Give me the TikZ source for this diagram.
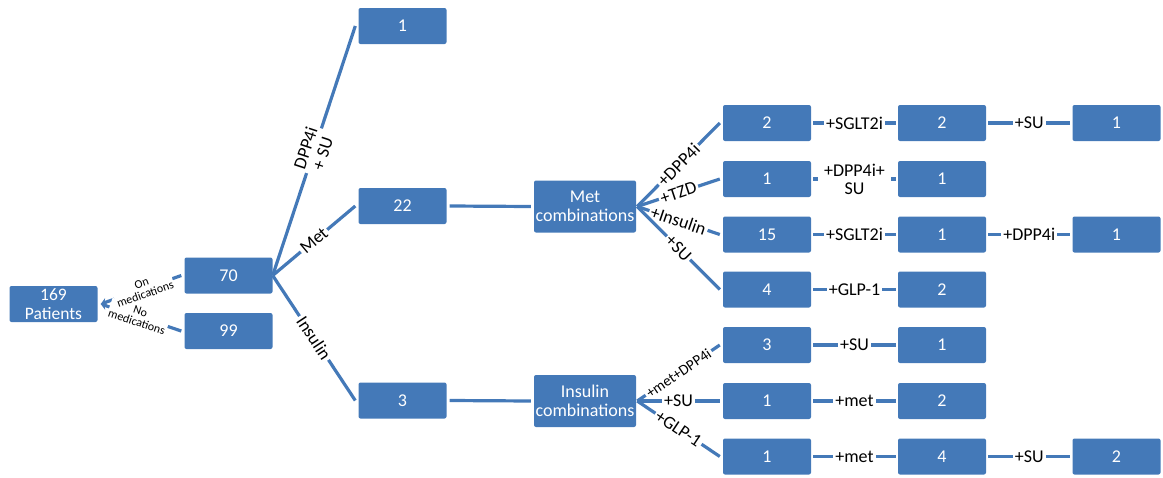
\documentclass[tikz,border=0pt]{standalone}
\usepackage{fontspec}
\setmainfont{Carlito}
\usetikzlibrary{arrows.meta}
\definecolor{boxblue}{RGB}{68,121,184}
\begin{document}
\begin{tikzpicture}[x=1pt,y=-1pt,
 bx/.style={rectangle, rounded corners=2pt, fill=boxblue, text=white, minimum width=88pt, minimum height=36pt, inner sep=0pt, font=\fontsize{18}{19.5}\selectfont, align=center},
 wide/.style={bx, minimum width=102pt, minimum height=52pt},
 conn/.style={draw=boxblue, line width=3.2pt},
 lab/.style={fill=white, inner xsep=2pt, inner ysep=0pt, font=\fontsize{18}{18}\selectfont, text=black, align=center},
 smalllab/.style={lab, inner xsep=1pt, font=\fontsize{12}{11.5}\selectfont},
 midlab/.style={lab, font=\fontsize{15}{15}\selectfont},
 tip/.style={-{Stealth[length=6pt,width=8pt]}},
]
\useasboundingbox (0,0) rectangle (1163,477);

% left part
\node[bx, font=\fontsize{17.5}{19}\selectfont] (pat) at (53.5,304) {169\\Patients};
\node[bx] (n70) at (228.5,275.5) {70};
\node[bx] (n99) at (228.5,331) {99};
\node[bx] (n1) at (402.5,26) {1};
\node[bx] (n22) at (402.5,206) {22};
\node[bx] (n3) at (402.5,400.5) {3};
\node[wide] (metc) at (585,206.5) {Met\\combinations};
\node[wide] (insc) at (585,401) {Insulin\\combinations};

% right columns
\node[bx] (a1) at (767,123) {2};
\node[bx] (a2) at (942,123) {2};
\node[bx] (a3) at (1116.5,123) {1};
\node[bx] (b1) at (767,179) {1};
\node[bx] (b2) at (942,179) {1};
\node[bx] (c1) at (767,234.5) {15};
\node[bx] (c2) at (942,234.5) {1};
\node[bx] (c3) at (1116.5,234.5) {1};
\node[bx] (d1) at (767,289.5) {4};
\node[bx] (d2) at (942,289.5) {2};
\node[bx] (e1) at (767,345) {3};
\node[bx] (e2) at (942,345) {1};
\node[bx] (f1) at (767,401) {1};
\node[bx] (f2) at (942,401) {2};
\node[bx] (g1) at (767,456.5) {1};
\node[bx] (g2) at (942,456.5) {4};
\node[bx] (g3) at (1116.5,456.5) {2};

% medications arrows: lines, then white backings, then texts
\draw[conn, tip] ([xshift=-3pt]n70.west) -- ([xshift=3pt]pat.east);
\draw[conn, tip] ([xshift=-3pt]n99.west) -- ([xshift=3pt]pat.east);
\path ([xshift=-3pt]n70.west) -- node[smalllab, sloped, pos=0.47]{\phantom{On}\\\phantom{medications}} ([xshift=3pt]pat.east);
\path ([xshift=-3pt]n99.west) -- node[smalllab, sloped, pos=0.53]{\phantom{No}\\\phantom{medications}} ([xshift=3pt]pat.east);
\path ([xshift=-3pt]n70.west) -- node[smalllab, sloped, pos=0.47, fill=none]{On\\medications} ([xshift=3pt]pat.east);
\path ([xshift=-3pt]n99.west) -- node[smalllab, sloped, pos=0.53, fill=none]{No\\medications} ([xshift=3pt]pat.east);

% fan from 70
\draw[conn] (n70.east) -- node[lab, sloped]{DPP4i\\+ SU} ([xshift=-3pt]n1.west);
\draw[conn] (n70.east) -- node[lab, sloped]{Met} ([xshift=-3pt]n22.west);
\draw[conn] (n70.east) -- node[lab, sloped]{Insulin} ([xshift=-3pt]n3.west);

% to combinations
\draw[conn] ([xshift=3pt]n22.east) -- ([xshift=-3pt]metc.west);
\draw[conn] ([xshift=3pt]n3.east) -- ([xshift=-3pt]insc.west);

% fan from Met combinations
\draw[conn] ([xshift=1pt]metc.east) -- node[lab, sloped]{+DPP4i} ([xshift=-3pt]a1.west);
\draw[conn] ([xshift=1pt]metc.east) -- node[lab, sloped]{+TZD} ([xshift=-3pt]b1.west);
\draw[conn] ([xshift=1pt]metc.east) -- node[lab, sloped]{+Insulin} ([xshift=-3pt]c1.west);
\draw[conn] ([xshift=1pt]metc.east) -- node[lab, sloped]{+SU} ([xshift=-3pt]d1.west);

% fan from Insulin combinations
\draw[conn] ([xshift=1pt]insc.east) -- node[midlab, sloped]{+met+DPP4i} ([xshift=-3pt]e1.west);
\draw[conn] ([xshift=1pt]insc.east) -- node[lab]{+SU} ([xshift=-3pt]f1.west);
\draw[conn] ([xshift=1pt]insc.east) -- node[lab, sloped]{+GLP-1} ([xshift=-3pt]g1.west);

% horizontal chains
\draw[conn] ([xshift=2pt]a1.east) -- node[lab]{+SGLT2i} ([xshift=-2pt]a2.west);
\draw[conn] ([xshift=2pt]a2.east) -- node[lab]{+SU} ([xshift=-2pt]a3.west);
\draw[conn] ([xshift=2pt]b1.east) -- node[lab, inner xsep=6pt, inner ysep=1pt]{+DPP4i+\\SU} ([xshift=-2pt]b2.west);
\draw[conn] ([xshift=2pt]c1.east) -- node[lab]{+SGLT2i} ([xshift=-2pt]c2.west);
\draw[conn] ([xshift=2pt]c2.east) -- node[lab]{+DPP4i} ([xshift=-2pt]c3.west);
\draw[conn] ([xshift=2pt]d1.east) -- node[lab]{+GLP-1} ([xshift=-2pt]d2.west);
\draw[conn] ([xshift=2pt]e1.east) -- node[lab]{+SU} ([xshift=-2pt]e2.west);
\draw[conn] ([xshift=2pt]f1.east) -- node[lab]{+met} ([xshift=-2pt]f2.west);
\draw[conn] ([xshift=2pt]g1.east) -- node[lab]{+met} ([xshift=-2pt]g2.west);
\draw[conn] ([xshift=2pt]g2.east) -- node[lab]{+SU} ([xshift=-2pt]g3.west);
\end{tikzpicture}
\end{document}
